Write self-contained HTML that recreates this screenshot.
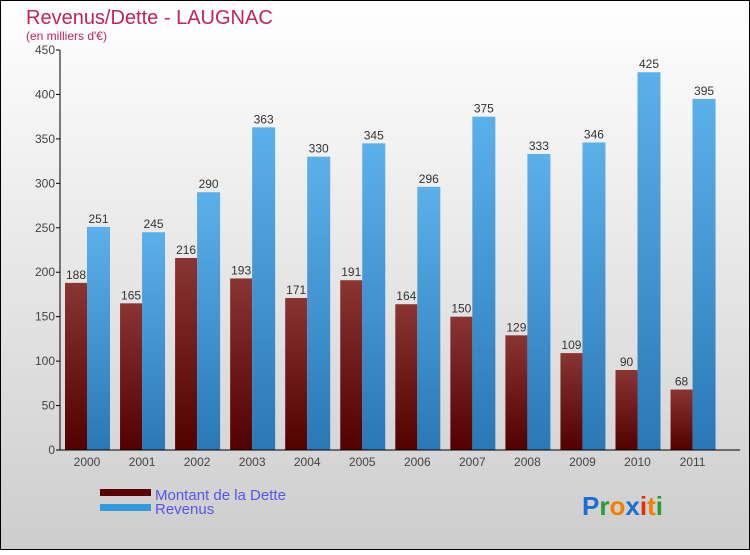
<!DOCTYPE html>
<html><head><meta charset="utf-8"><style>
html,body{margin:0;padding:0}
body{width:750px;height:550px;overflow:hidden}
svg text{font-family:"Liberation Sans",sans-serif}
</style></head><body>
<svg width="750" height="550" viewBox="0 0 750 550">
<defs>
<linearGradient id="bg" x1="0" y1="0" x2="0" y2="1"><stop offset="0" stop-color="#ffffff"/><stop offset="1" stop-color="#cdcdcd"/></linearGradient>
<linearGradient id="gd" x1="0" y1="0" x2="0" y2="1"><stop offset="0" stop-color="#8a3434"/><stop offset="1" stop-color="#520000"/></linearGradient>
<linearGradient id="gr" x1="0" y1="0" x2="0" y2="1"><stop offset="0" stop-color="#5cb0ea"/><stop offset="1" stop-color="#2a78b6"/></linearGradient>
</defs>
<rect x="0.5" y="0.5" width="749" height="549" fill="url(#bg)" stroke="#000"/>
<text x="26" y="24" font-size="20" fill="#c0245c">Revenus/Dette - LAUGNAC</text>
<text x="26" y="40" font-size="12" fill="#c0245c">(en milliers d'€)</text>
<g id="plot"></g>
<rect x="100" y="489" width="51" height="7" fill="#5a0000"/>
<text x="155" y="500" font-size="15" fill="#5555ee">Montant de la Dette</text>
<rect x="100" y="504" width="51" height="7" fill="#3399dd"/>
<text x="155" y="514" font-size="15" fill="#5555ee">Revenus</text>
<g font-size="26" font-weight="bold">
<text x="582" y="515"><tspan fill="#1a6fd0">P</tspan><tspan fill="#2a9a3a">r</tspan><tspan fill="#f08000">o</tspan><tspan fill="#1a6fd0">x</tspan><tspan fill="#e03010">i</tspan><tspan fill="#f08000">t</tspan><tspan fill="#2a9a3a">i</tspan></text>
</g>
</svg>
<script>
const years=["2000","2001","2002","2003","2004","2005","2006","2007","2008","2009","2010","2011"];
const dette=[188,165,216,193,171,191,164,150,129,109,90,68];
const revenus=[251,245,290,363,330,345,296,375,333,346,425,395];
const yTicks=[0,50,100,150,200,250,300,350,400,450];
const NS="http://www.w3.org/2000/svg";
const g=document.getElementById('plot');
const x0=60,x1=740,yb=450,yt=50,ymax=450,step=55.05;
function y(v){return yb-(v/ymax)*(yb-yt);}
function gx(i){return x0+5+i*step;}
function mk(t,a,p){const e=document.createElementNS(NS,t);for(const k in a)e.setAttribute(k,a[k]);(p||g).appendChild(e);return e;}
yTicks.forEach(t=>{
 const l=mk('line',{x1:x0-4,x2:x0,y1:y(t),y2:y(t),stroke:'#000'});
 
 
 const tx=mk('text',{x:x0-5,y:y(t)+4,'font-size':12,fill:'#444','text-anchor':'end'});tx.textContent=t;
 
 
});
years.forEach((yr,i)=>{
 const bx=gx(i);
 const d=mk('rect',{x:bx,y:y(dette[i]),width:22,height:yb-y(dette[i]),fill:'url(#gd)'});
 
 
 const r=mk('rect',{x:bx+22,y:y(revenus[i]),width:23,height:yb-y(revenus[i]),fill:'url(#gr)'});
 
 
 const dl=mk('text',{x:bx+11,y:y(dette[i])-4,'font-size':12,fill:'#333','text-anchor':'middle'});dl.textContent=dette[i];
 
 
 const rl=mk('text',{x:bx+33.5,y:y(revenus[i])-4,'font-size':12,fill:'#333','text-anchor':'middle'});rl.textContent=revenus[i];
 
 
 const xl=mk('text',{x:bx+22,y:466,'font-size':12,fill:'#444','text-anchor':'middle'});xl.textContent=yr;
 
 
});
const ya=mk('line',{x1:x0,x2:x0,y1:yt,y2:yb,stroke:'#000'});


const xa=mk('line',{x1:x0,x2:x1,y1:yb,y2:yb,stroke:'#000'});


</script>
</body></html>
